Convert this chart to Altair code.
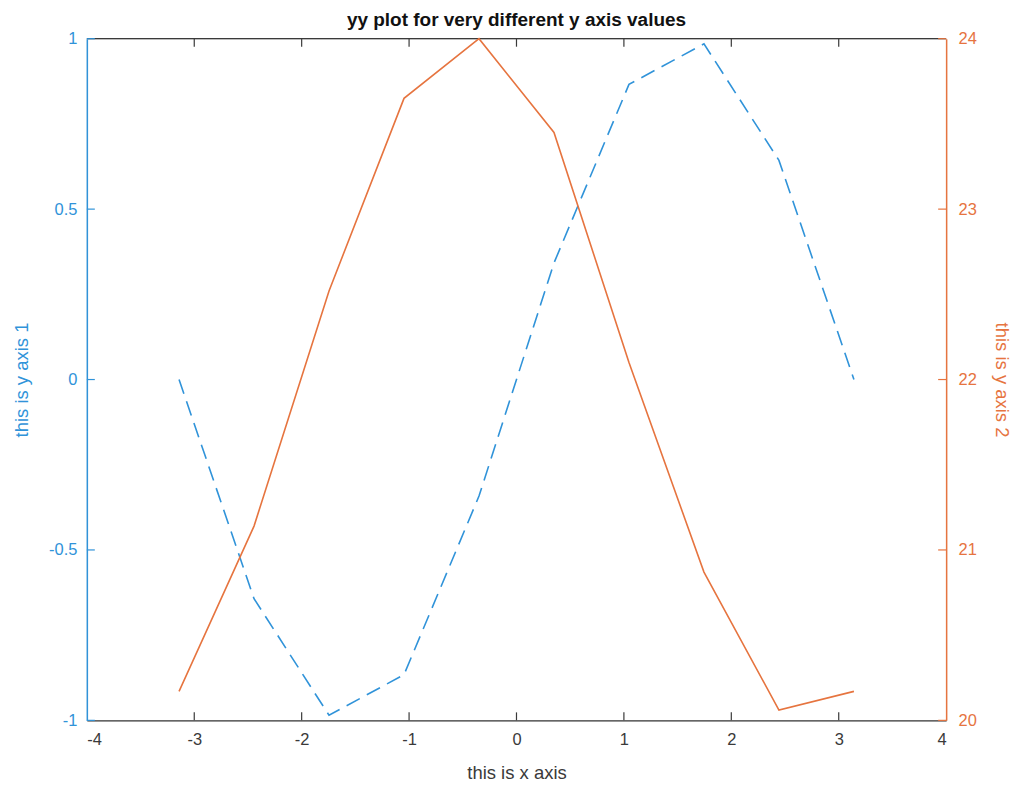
import altair as alt
import pandas as pd

# ---- data ----
x_vals = [-3.1416, -2.4435, -1.7453, -1.0472, -0.3491, 0.3491, 1.0472, 1.7453, 2.4435, 3.1416]
y1_vals = [0.0, -0.643, -0.985, -0.866, -0.342, 0.342, 0.866, 0.985, 0.643, 0.0]
y2_vals = [20.17, 21.14, 22.52, 23.65, 24.0, 23.45, 22.10, 20.87, 20.06, 20.17]
x_ticks = [-4, -3, -2, -1, 0, 1, 2, 3, 4]
y1_ticks = [-1, -0.5, 0, 0.5, 1]
y2_ticks = [20, 21, 22, 23, 24]

TITLE = "yy plot for very different y axis values"
X_TITLE = "this is x axis"
Y1_TITLE = "this is y axis 1"
Y2_TITLE = "this is y axis 2"

BLUE = "#3093d9"
ORANGE = "#e6743f"
GREY = "#3a3a3a"
FONT = "Liberation Sans"

W, H = 861, 683
TL = 8  # inward tick length

df = pd.DataFrame({"x": x_vals, "y1": y1_vals, "y2": y2_vals})
xt_df = pd.DataFrame({"x": x_ticks[1:-1]})
y1t_df = pd.DataFrame({"y1": y1_ticks})
y2t_df = pd.DataFrame({"y2": y2_ticks})
one = pd.DataFrame({"a": [0]})

xscale = alt.Scale(domain=[-4, 4], nice=False, zero=False)
y1scale = alt.Scale(domain=[-1, 1], nice=False, zero=False)
y2scale = alt.Scale(domain=[20, 24], nice=False, zero=False)

LBL = 16.5
TTL = 18.5

x_axis = alt.Axis(
    values=x_ticks, title=X_TITLE, grid=False, tickSize=0, labelPadding=11,
    domainColor=GREY, domainWidth=1.2, labelColor=GREY, titleColor=GREY,
    labelFont=FONT, titleFont=FONT, labelFontSize=LBL, titleFontSize=TTL,
    titleFontWeight="normal", labelExpr="datum.value + ''",
    titleX=W / 2, titleY=52, titleBaseline="middle", titleAlign="center",
)
y1_axis = alt.Axis(
    orient="left", values=y1_ticks, title=Y1_TITLE, grid=False, tickSize=0,
    labelPadding=10, domainColor=BLUE, domainWidth=1.5, labelColor=BLUE,
    titleColor=BLUE, labelFont=FONT, titleFont=FONT, labelFontSize=LBL,
    titleFontSize=TTL, titleFontWeight="normal", labelExpr="datum.value + ''",
    titleX=-65, titleY=H / 2, titleBaseline="middle", titleAlign="center",
    zindex=1,
)
y2_axis = alt.Axis(
    orient="right", values=y2_ticks, title=Y2_TITLE, grid=False, tickSize=0,
    labelPadding=12, domainColor=ORANGE, domainWidth=1.5, labelColor=ORANGE,
    titleColor=ORANGE, labelFont=FONT, titleFont=FONT, labelFontSize=LBL,
    titleFontSize=TTL, titleFontWeight="normal", labelExpr="datum.value + ''",
    titleX=55, titleY=H / 2, titleBaseline="middle", titleAlign="center",
    zindex=1,
)

X = alt.X("x:Q", scale=xscale, axis=x_axis)

blue_line = alt.Chart(df).mark_line(
    color=BLUE, strokeWidth=1.6, strokeDash=[15, 8]
).encode(x=X, y=alt.Y("y1:Q", scale=y1scale, axis=y1_axis))

left_ticks = alt.Chart(y1t_df).mark_rule(color=BLUE, strokeWidth=1.2).encode(
    y=alt.Y("y1:Q", scale=y1scale, axis=y1_axis), x=alt.value(0), x2=alt.value(TL)
)
bottom_ticks = alt.Chart(xt_df).mark_rule(color=GREY, strokeWidth=1.2).encode(
    x=X, y=alt.value(H), y2=alt.value(H - TL)
)
top_ticks = alt.Chart(xt_df).mark_rule(color=GREY, strokeWidth=1.2).encode(
    x=X, y=alt.value(0), y2=alt.value(TL)
)
top_border = alt.Chart(one).mark_rule(color=GREY, strokeWidth=1.2).encode(
    x=alt.value(0), x2=alt.value(W), y=alt.value(0)
)

orange_line = alt.Chart(df).mark_line(color=ORANGE, strokeWidth=1.6).encode(
    x=X, y=alt.Y("y2:Q", scale=y2scale, axis=y2_axis)
)
right_ticks = alt.Chart(y2t_df).mark_rule(color=ORANGE, strokeWidth=1.2).encode(
    y=alt.Y("y2:Q", scale=y2scale, axis=y2_axis), x=alt.value(W - TL), x2=alt.value(W)
)

left_group = alt.layer(top_border, bottom_ticks, top_ticks, left_ticks, blue_line)
right_group = alt.layer(right_ticks, orange_line)

chart = (
    alt.layer(left_group, right_group)
    .resolve_scale(y="independent")
    .properties(
        width=W,
        height=H,
        title=alt.TitleParams(
            TITLE, font=FONT, fontSize=19, fontWeight="bold", color="#111111",
            anchor="middle", offset=1,
        ),
        autosize=alt.AutoSizeParams(type="none"),
        padding={"left": 79, "top": 30, "right": 67, "bottom": 65},
    )
    .configure_view(stroke=None)
    .configure(background="white")
)

chart.save("out.html", embed_options={"renderer": "svg", "actions": False})
